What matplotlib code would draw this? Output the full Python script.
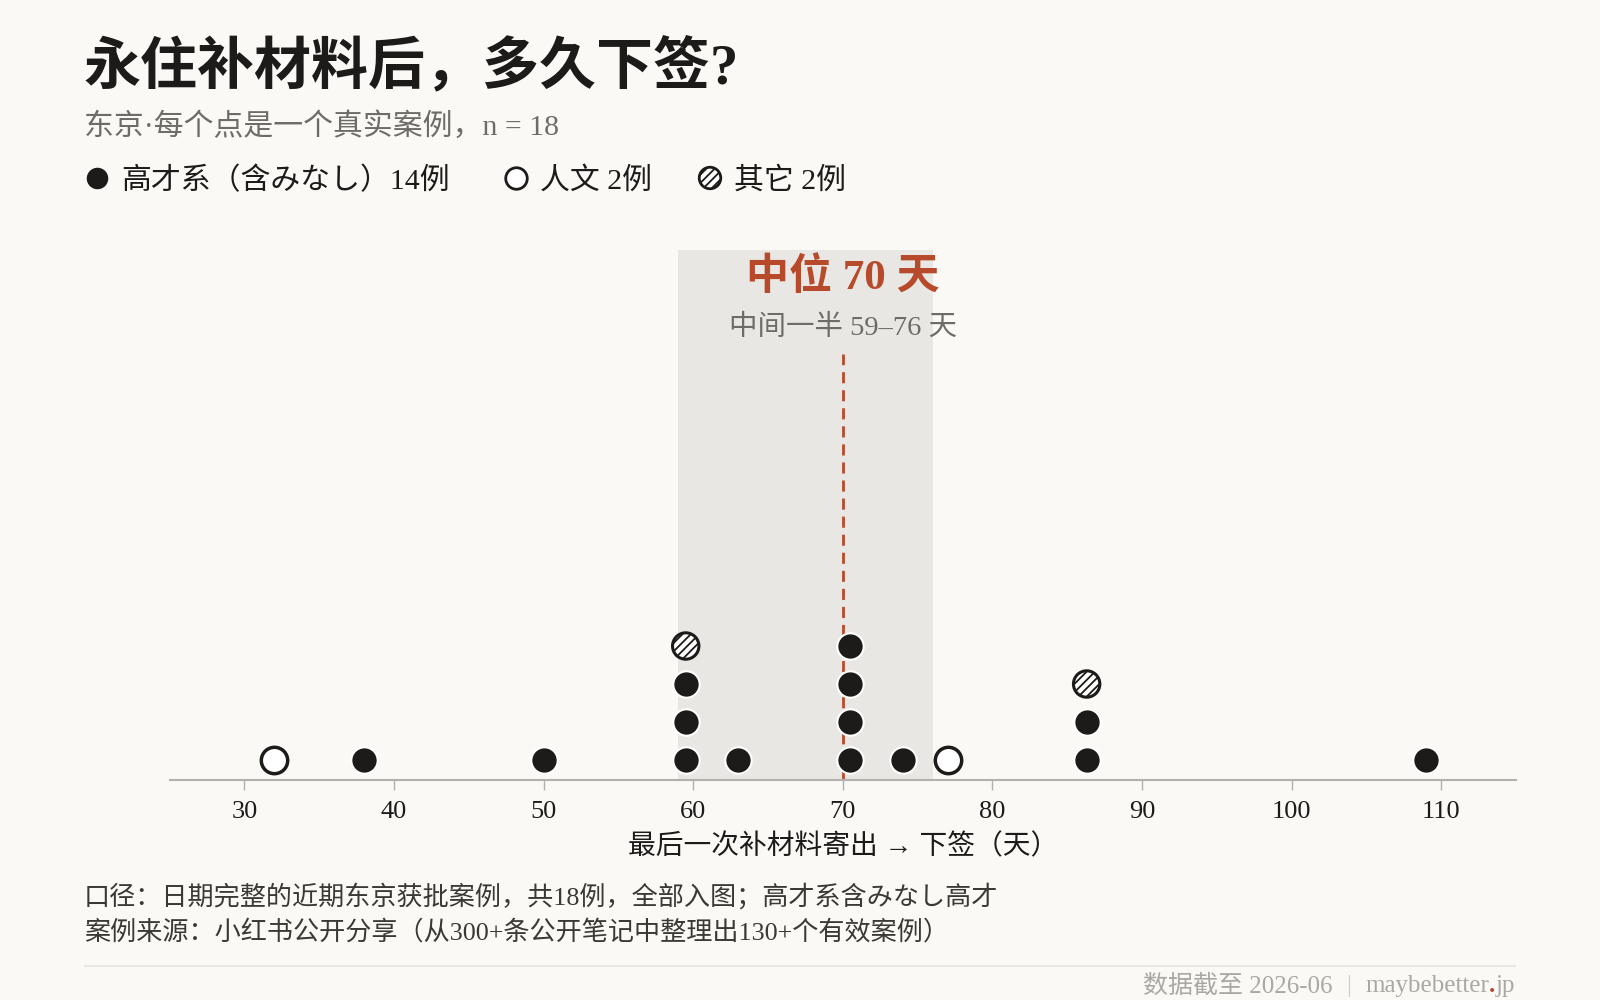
import matplotlib
matplotlib.use("Agg")
import matplotlib.pyplot as plt

# chart data
days = [32, 38, 50, 59.5, 59.5, 59.5, 59.5, 63, 70.5, 70.5, 70.5, 70.5,
        74, 77, 86.3, 86.3, 86.3, 109]
kinds = ["人文", "高才", "高才", "高才", "高才", "高才", "其它", "高才",
         "高才", "高才", "高才", "高才", "高才", "人文", "高才", "高才", "其它", "高才"]
legend_labels = ["高才系（含みなし）14例", "人文 2例", "其它 2例"]
median_day = 70
iqr = (59, 76)
ticks = [30, 40, 50, 60, 70, 80, 90, 100, 110]

BG = "#faf9f6"
INK = "#1c1b19"
GREY = "#6e6c66"
BAND = "#e8e7e3"
RED = "#b84a2c"
FAINT = "#aaa8a2"

plt.rcParams["font.family"] = ["Liberation Serif", "Noto Sans CJK SC", "DejaVu Sans"]
plt.rcParams["hatch.linewidth"] = 1.3

fig = plt.figure(figsize=(16, 10), dpi=100, facecolor=BG)


def px(x, y):
    return x / 1600, 1 - y / 1000


# axes placed so one y unit is one pixel above the baseline
ax = fig.add_axes([169.6 / 1600, 0.22, (1516 - 169.6) / 1600, 0.53])
ax.set_facecolor(BG)
ax.set_xlim(25, 115)
ax.set_ylim(0, 530)

ax.axvspan(iqr[0], iqr[1], color=BAND, lw=0, zorder=0)
ax.plot([median_day, median_day], [0, 426], color=RED, lw=2,
        ls=(0, (4, 2.5)), zorder=1)
ax.text(median_day, 502, f"中位 {median_day} 天", color=RED, fontsize=31,
        weight="bold", ha="center", va="center")
ax.text(median_day, 452, f"中间一半 {iqr[0]}–{iqr[1]} 天", color=GREY,
        fontsize=20.5, ha="center", va="center")

styles = {
    "高才": dict(facecolor=INK, edgecolor="white", linewidths=1.5),
    "人文": dict(facecolor="white", edgecolor=INK, linewidths=2.5),
    "其它": dict(facecolor="white", edgecolor=INK, linewidths=2.2, hatch="////"),
}

seen = {}
for d, k in zip(days, kinds):
    n = seen.get(d, 0)
    seen[d] = n + 1
    ax.scatter([d], [20 + 38 * n], s=361, zorder=3, clip_on=False, **styles[k])

for s in ["top", "right", "left"]:
    ax.spines[s].set_visible(False)
ax.spines["bottom"].set_color("#b3b1ab")
ax.spines["bottom"].set_linewidth(1.5)
ax.set_yticks([])
ax.set_xticks(ticks)
ax.set_xticklabels([str(t) for t in ticks])
ax.tick_params(axis="x", length=7, width=1, color="#b3b1ab", labelsize=19,
               labelcolor=INK, pad=8)
ax.set_xlabel("最后一次补材料寄出 → 下签（天）", fontsize=20, color=INK, labelpad=8)

# header
fig.text(*px(84, 67), "永住补材料后，多久下签?", fontsize=41, weight="bold",
         color=INK, va="center")
fig.text(*px(84, 126), "东京·每个点是一个真实案例，n = 18", fontsize=21.5,
         color=GREY, va="center")

legend_x = [(97, 121), (516, 540), (710, 734)]
legend_kinds = ["高才", "人文", "其它"]
for (mx, tx), k, lab in zip(legend_x, legend_kinds, legend_labels):
    st = dict(styles[k])
    st["linewidths"] = 2.0 if k != "高才" else 0
    fx, fy = px(mx, 178)
    ax.scatter([fx], [fy], s=240, transform=fig.transFigure, clip_on=False,
               zorder=5, **st)
    fig.text(*px(tx, 181), lab, fontsize=21.5, color=INK, va="center")

# notes
fig.text(*px(84, 896), "口径：日期完整的近期东京获批案例，共18例，全部入图；高才系含みなし高才",
         fontsize=18.8, color="#3a3935", va="center")
fig.text(*px(84, 932), "案例来源：小红书公开分享（从300+条公开笔记中整理出130+个有效案例）",
         fontsize=18.8, color="#3a3935", va="center")

fig.add_artist(plt.Line2D([85 / 1600, 1515 / 1600], [1 - 966 / 1000] * 2,
                          color="#e6e4df", lw=1.2))

# footer built right to left
renderer = fig.canvas.get_renderer()
x = 1515
for piece, col, gap in [("jp", FAINT, 0), (".", RED, 0), ("maybebetter", FAINT, 14),
                        ("|", "#d0cec8", 14), ("数据截至 2026-06", FAINT, 0)]:
    t = fig.text(*px(x, 986), piece, fontsize=18, color=col, ha="right", va="center",
                 weight="bold" if piece == "." else "normal")
    w = t.get_window_extent(renderer).width
    x = x - w - gap

fig.savefig("out.png", dpi=100, facecolor=BG)
